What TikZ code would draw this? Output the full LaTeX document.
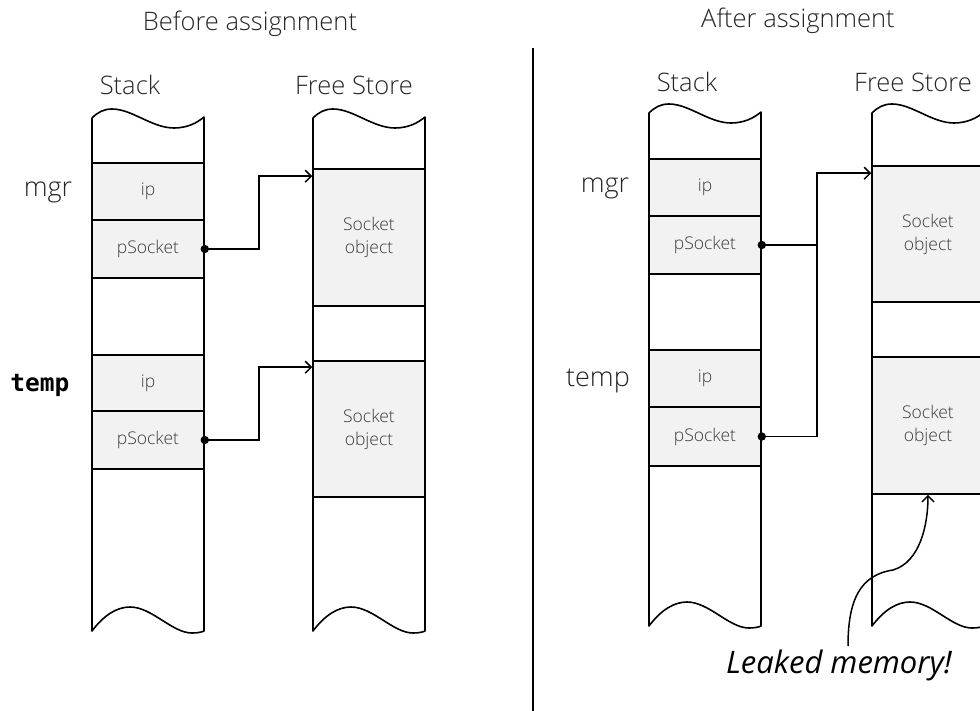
\documentclass[tikz,border=0pt]{standalone}
\usepackage{fontspec}
\IfFontExistsTF{Open Sans Light}{\setmainfont{Open Sans Light}}{\setmainfont{Open Sans}}
\newfontfamily\monob{DejaVu Sans Mono}
\newfontfamily\handf{Open Sans}
\usetikzlibrary{arrows.meta,calc}
\definecolor{cellgray}{HTML}{F2F2F2}
\definecolor{txt}{HTML}{262626}
\definecolor{celltxt}{HTML}{3A3A3A}
\newcommand\memcol[3]{%
  \draw[colline] (#1,#2) .. controls (#1+6,#2-6) and (#1+12,#2-9) .. (#1+20,#2-9)
    .. controls (#1+40,#2-9) and (#1+60,#2+10) .. (#1+82,#2+10)
    .. controls (#1+95,#2+10) and (#1+105,#2+5) .. (#1+112,#2-1)
    -- (#1+112,#3)
    .. controls (#1+110,#3+1) and (#1+106,#3+2) .. (#1+100,#3+2)
    .. controls (#1+80,#3+2) and (#1+60,#3-24) .. (#1+38,#3-24)
    .. controls (#1+25,#3-24) and (#1+12,#3-16) .. (#1,#3) -- cycle;}
\begin{document}
\begin{tikzpicture}[x=1pt,y=-1pt,
  colline/.style={line width=1.6pt, fill=white, line join=round},
  cell/.style={draw, line width=1.6pt, fill=cellgray, minimum width=112pt, inner sep=0pt,
    font=\fontsize{17.5}{23}\selectfont, text=celltxt, align=center},
  lbl/.style={font=\fontsize{25.5}{30}\selectfont, text=txt, anchor=base},
  side/.style={font=\fontsize{27}{30}\selectfont, text=txt, anchor=base},
  ptr/.style={line width=1.5pt, -{Straight Barb[length=6pt,width=12pt,line width=1.5pt]}},
]
\useasboundingbox (0,0) rectangle (980,711);
\clip (0,0) rectangle (980,711);

% titles and divider
\node[lbl] (tbefore) at (250,31) {Before assignment};
\node[lbl] (tafter) at (798,28) {After assignment};
\coordinate (dtop) at (533,48);
\coordinate (dbot) at (533,711);
\draw[line width=1.5pt] (dtop) -- (dbot);

% ---------------- left panel ----------------
\node[lbl] (lstack) at (130,95) {Stack};
\node[lbl] (lfree) at (354,95) {Free Store};
\memcol{92}{118}{631}
\memcol{313}{118}{631}
\node[cell, minimum height=57pt] (lip1) at (148,191.5) {ip};
\node[cell, minimum height=58pt] (lps1) at (148,249) {pSocket};
\node[cell, minimum height=56pt] (lip2) at (148,383) {ip};
\node[cell, minimum height=58pt] (lps2) at (148,440) {pSocket};
\node[cell, minimum height=137pt] (lsock1) at (369,237.5) {Socket\\object};
\node[cell, minimum height=136pt] (lsock2) at (369,429) {Socket\\object};
\node[side] (lmgr) at (48,197) {mgr};
\node[side, font=\monob\bfseries\fontsize{24.5}{28}\selectfont, text=black] (ltemp) at (40,391) {temp};

\draw[ptr] (lps1.east) -- ++(54,0) |- ([yshift=-8pt]lsock1.north west);
\draw[ptr] (lps2.east) -- ++(54,0) |- ([yshift=-7pt]lsock2.north west);
\fill (lps1.east) circle (4.2pt);
\fill (lps2.east) circle (4.2pt);

% ---------------- right panel ----------------
\node[lbl] (rstack) at (687,92) {Stack};
\node[lbl] (rfree) at (913,92) {Free Store};
\memcol{649}{113}{626}
\memcol{872}{113}{626}
\node[cell, minimum height=57pt] (rip1) at (705,187.5) {ip};
\node[cell, minimum height=58pt] (rps1) at (705,245) {pSocket};
\node[cell, minimum height=57pt] (rip2) at (705,378.5) {ip};
\node[cell, minimum height=59pt] (rps2) at (705,436.5) {pSocket};
\node[cell, minimum height=136pt] (rsock1) at (928,234) {Socket\\object};
\node[cell, minimum height=137pt] (rsock2) at (928,425.5) {Socket\\object};
\node[side] (rmgr) at (605,193) {mgr};
\node[side] (rtemp) at (598,386) {temp};

\coordinate (rbend) at (817,436.5);
\draw[ptr] (rps2.east) -- (rbend) |- ([yshift=-8pt]rsock1.north west);
\draw[line width=1.5pt] (rps1.east) -- (rps1.east -| rbend);
\fill (rps1.east) circle (4.2pt);
\fill (rps2.east) circle (4.2pt);

% leaked memory
\node[anchor=base, font=\handf\itshape\fontsize{31}{34}\selectfont, text=black] (leak) at (839,673) {Leaked memory!};
\coordinate (lk) at (848,646);
\draw[ptr] (lk) .. controls (848,600) and (860,575) .. (893,570)
  .. controls (920,562) and (928,525) .. (rsock2.south);
\end{tikzpicture}
\end{document}
